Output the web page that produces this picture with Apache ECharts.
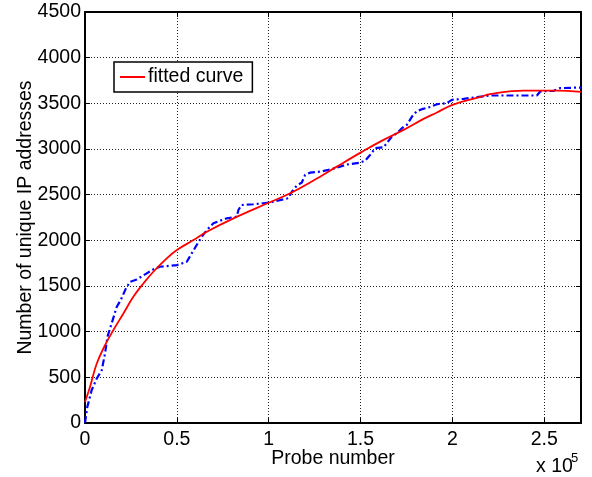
<!DOCTYPE html>
<html>
<head>
<meta charset="utf-8">
<script src="https://cdn.jsdelivr.net/npm/echarts@6/dist/echarts.min.js"></script>
<style>
  html, body { margin: 0; padding: 0; background: #fff; }
  #chart { width: 592px; height: 477px; }
</style>
</head>
<body>
<div id="chart"></div>
<script>
// Observed unique IP count versus probe number (step-like dash-dot trace)
const observedProbe = [
  0, 1250, 3600, 6400, 9100, 10900, 12200, 14500, 17300, 19400, 22300, 24500,
  28200, 33600, 37200, 40800, 46300, 50000, 55400, 58100, 60800, 63600, 66300,
  69900, 73500, 77200, 82600, 83500, 85300, 91700, 97100, 100800, 104000, 110700,
  112600, 115300, 118000, 119800, 122500, 128000, 132500, 137100, 142500, 149800,
  152500, 155200, 158000, 162500, 164300, 167000, 169800, 172500, 175200, 178000,
  180700, 183400, 187900, 191600, 197000, 199700, 206100, 213300, 220600, 246000,
  247800, 255100, 258700, 270000
];
const observedCount = [
  0, 175, 358, 487, 578, 761, 943, 1090, 1272, 1345, 1474, 1546,
  1572, 1638, 1682, 1711, 1721, 1729, 1765, 1857, 1949, 2040, 2113,
  2186, 2215, 2241, 2259, 2332, 2387, 2395, 2406, 2415, 2430, 2461,
  2533, 2600, 2632, 2716, 2741, 2752, 2771, 2795, 2830, 2851,
  2873, 2935, 3009, 3018, 3064, 3136, 3173, 3228, 3264, 3355,
  3415, 3436, 3460, 3490, 3502, 3538, 3549, 3568, 3586, 3586,
  3630, 3637, 3667, 3673
];

// Fitted curve samples
const fitProbe = [
  0, 2700, 6400, 10900, 15400, 20900, 26300, 31800, 37200, 44500, 50000,
  59000, 66300, 80800, 100000, 111700, 128000, 137100, 150000, 160700, 173400,
  184300, 191600, 200000, 215200, 220600, 238700, 256900, 270000
];
const fitCount = [
  230, 395, 651, 852, 1016, 1199, 1382, 1528, 1656, 1803, 1894,
  2003, 2094, 2241, 2412, 2515, 2697, 2807, 2960, 3081, 3209,
  3330, 3400, 3484, 3570, 3601, 3640, 3640, 3626
];

// Axis ranges and tick spacing
const xMin = 0, xMax = 270000, xStep = 50000;
const yMin = 0, yMax = 4500, yStep = 500;
const seriesNames = ['observed', 'fitted curve'];
const axisTitles = { x: 'Probe number', y: 'Number of unique IP addresses' };
const exponentBase = 'x 10';
const exponentPower = '5';

const pair = (xs, ys) => xs.map((x, i) => [x, ys[i]]);

const FONT = 'Liberation Sans, Arial, Helvetica, sans-serif';
const labelStyle = { color: '#000', fontFamily: FONT, fontSize: 19.5 };

const chart = echarts.init(document.getElementById('chart'), null, { renderer: 'canvas' });

const baseX = {
  type: 'value', min: xMin, max: xMax, interval: xStep,
  axisLine: { show: true, onZero: false, lineStyle: { color: '#000', width: 2 } },
  axisTick: { show: true, inside: true, length: 5, lineStyle: { color: '#000', width: 1 } }
};
const baseY = {
  type: 'value', min: yMin, max: yMax, interval: yStep,
  axisLine: { show: true, onZero: false, lineStyle: { color: '#000', width: 2 } },
  axisTick: { show: true, inside: true, length: 5, lineStyle: { color: '#000', width: 1 } }
};

chart.setOption({
  animation: false,
  backgroundColor: '#fff',
  grid: {
    left: 85, right: 11, top: 12, bottom: 54,
    containLabel: false, outerBoundsMode: 'none'
  },
  legend: {
    data: [seriesNames[1]],
    left: 114, top: 62,
    padding: [5, 9, 5, 6],
    icon: 'rect',
    itemWidth: 25, itemHeight: 2, itemGap: 4,
    borderColor: '#000', borderWidth: 1.5,
    backgroundColor: '#fff',
    textStyle: { color: '#000', fontFamily: FONT, fontSize: 19.5, padding: [0, 0, 0, -2] }
  },
  xAxis: [
    Object.assign({}, baseX, {
      position: 'bottom',
      name: axisTitles.x, nameLocation: 'middle', nameGap: 26,
      nameMoveOverlap: false,
      nameTextStyle: labelStyle,
      axisLabel: Object.assign({
        margin: 7, showMaxLabel: false, hideOverlap: false,
        formatter: v => String(v / 100000)
      }, labelStyle),
      splitLine: { show: true, lineStyle: { color: '#222', width: 1, type: [1, 2] } }
    }),
    Object.assign({}, baseX, {
      position: 'top',
      axisLabel: { show: false }, splitLine: { show: false }
    })
  ],
  yAxis: [
    Object.assign({}, baseY, {
      position: 'left',
      name: axisTitles.y, nameLocation: 'middle', nameGap: 49,
      nameMoveOverlap: false,
      nameTextStyle: labelStyle,
      axisLabel: Object.assign({ margin: 4, formatter: v => String(v) }, labelStyle),
      splitLine: { show: true, lineStyle: { color: '#222', width: 1, type: [1, 2] } }
    }),
    Object.assign({}, baseY, {
      position: 'right',
      axisLabel: { show: false }, splitLine: { show: false }
    })
  ],
  series: [
    {
      name: seriesNames[0], type: 'line',
      data: pair(observedProbe, observedCount),
      symbol: 'none', smooth: false,
      lineStyle: { color: '#0000ff', width: 2.2, type: [7, 3, 2, 3] },
      itemStyle: { color: '#0000ff' },
      z: 3
    },
    {
      name: seriesNames[1], type: 'line',
      data: pair(fitProbe, fitCount),
      symbol: 'none', smooth: 0.4,
      lineStyle: { color: '#ff0000', width: 1.8 },
      itemStyle: { color: '#ff0000' },
      z: 4
    }
  ],
  graphic: [
    {
      type: 'text', left: 536, top: 457,
      style: { text: exponentBase, fill: '#000', font: '19.5px ' + FONT }
    },
    {
      type: 'text', left: 571, top: 452,
      style: { text: exponentPower, fill: '#000', font: '13px ' + FONT }
    }
  ]
});
</script>
</body>
</html>
